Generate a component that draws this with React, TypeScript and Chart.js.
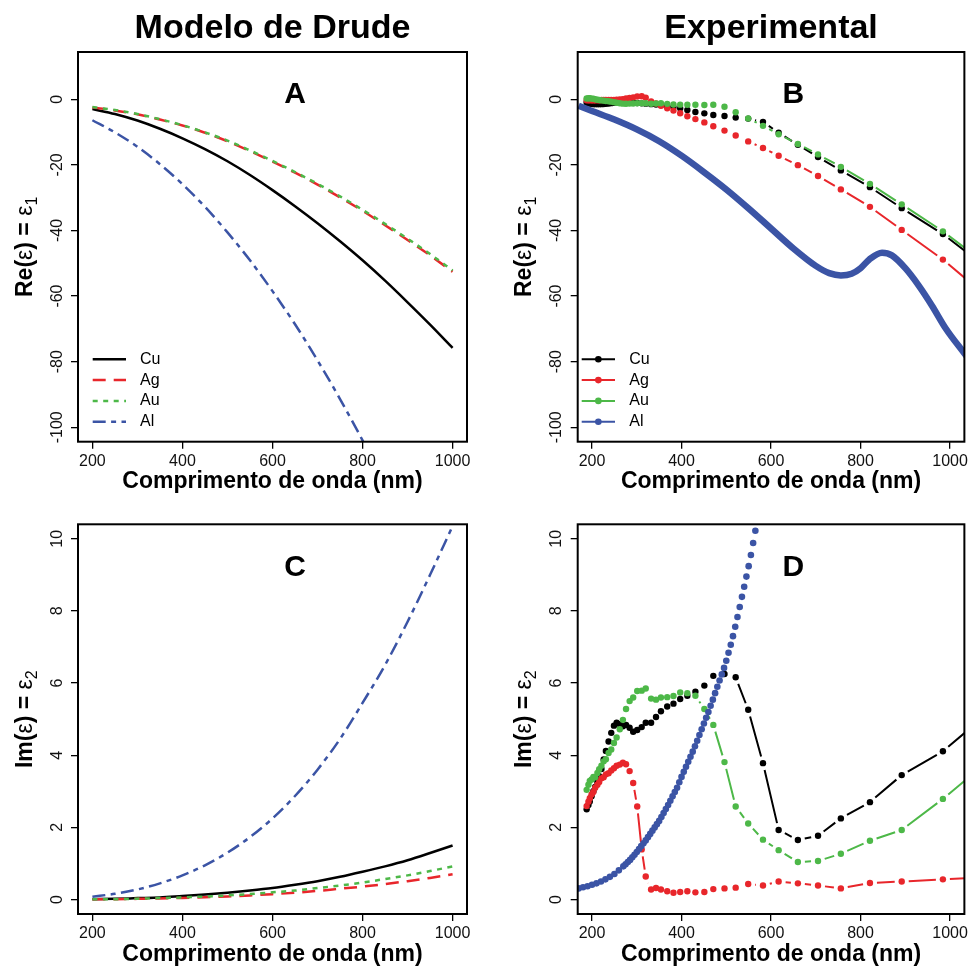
import React, { useEffect, useRef } from 'react';
import { Chart, registerables } from 'chart.js';

Chart.register(...registerables);

const FONT = "'Liberation Sans', Arial, Helvetica, sans-serif";

// ---------------- labels & ticks ----------------
const SERIES = ['Cu', 'Ag', 'Au', 'Al'];
const PANEL_TITLES = ['Modelo de Drude', 'Experimental'];
const X_TITLE = 'Comprimento de onda (nm)';
const X_TICKS = [200, 400, 600, 800, 1000];
const RE_TICKS = [-100, -80, -60, -40, -20, 0];
const IM_TICKS = [0, 2, 4, 6, 8, 10];
const X_RANGE = [168, 1032];
const RE_RANGE = [-104.4, 14.4];
const IM_RANGE = [-0.4, 10.4];

// ---------------- Drude model (panels A, C) ----------------
const DRUDE_WL = [200, 250, 300, 350, 400, 450, 500, 550, 600, 650, 700, 750, 800, 850, 900, 950, 1000];
const DRUDE_RE_CU = [-3.0, -4.5, -6.5, -9.0, -11.9, -15.2, -18.9, -23.1, -27.7, -32.6, -37.8, -43.3, -49.1, -55.3, -61.9, -68.7, -75.8];
const DRUDE_RE_AG = [-2.5, -3.4, -4.6, -6.2, -8.0, -10.2, -12.8, -15.8, -19.0, -22.4, -26.0, -29.9, -34.0, -38.4, -42.9, -47.6, -52.6];
const DRUDE_RE_AU = [-2.4, -3.3, -4.5, -6.1, -7.9, -10.1, -12.6, -15.6, -18.8, -22.2, -25.8, -29.6, -33.7, -38.0, -42.5, -47.2, -52.2];
const DRUDE_RE_AL = [-6.4, -10.1, -14.5, -19.8, -25.9, -32.8, -40.6, -49.1, -58.5, -68.6, -79.6, -91.4, -104.0, -117.4, -131.7, -146.7, -162.6];
const DRUDE_IM_CU = [0.01, 0.02, 0.04, 0.06, 0.1, 0.14, 0.19, 0.25, 0.32, 0.41, 0.51, 0.63, 0.77, 0.92, 1.09, 1.29, 1.5];
const DRUDE_IM_AG = [0.01, 0.01, 0.02, 0.03, 0.045, 0.064, 0.088, 0.116, 0.15, 0.19, 0.24, 0.3, 0.36, 0.43, 0.51, 0.6, 0.7];
const DRUDE_IM_AU = [0.01, 0.01, 0.025, 0.04, 0.059, 0.084, 0.115, 0.153, 0.2, 0.25, 0.32, 0.39, 0.47, 0.57, 0.67, 0.79, 0.92];
const DRUDE_IM_AL = [0.08, 0.16, 0.28, 0.45, 0.67, 0.95, 1.3, 1.73, 2.25, 2.87, 3.6, 4.45, 5.45, 6.5, 7.7, 9.0, 10.35];

// ---------------- Experimental (panels B, D) ----------------
const EXP_WL = [188, 192, 195, 199, 203, 207, 212, 216, 221, 226, 231, 237, 243, 249, 255, 262, 269, 276, 284, 292, 301, 311, 320, 332, 343, 354, 368, 382, 397, 413, 431, 451, 471, 496, 521, 549, 582, 617, 660, 705, 756, 821, 892, 984, 1088];
const EXP_RE_CU = [-1.0, -1.2, -1.3, -1.4, -1.5, -1.5, -1.5, -1.5, -1.5, -1.45, -1.4, -1.3, -1.2, -1.1, -0.95, -0.85, -0.8, -0.8, -0.85, -1.0, -1.15, -1.25, -1.35, -1.5, -1.6, -1.8, -2.1, -2.4, -2.75, -3.3, -3.9, -4.3, -4.8, -5.1, -5.6, -5.9, -6.9, -10.2, -13.9, -17.6, -21.7, -26.8, -33.2, -41.1, -52.0];
const EXP_RE_AG = [-0.32, -0.31, -0.32, -0.33, -0.36, -0.33, -0.32, -0.3, -0.24, -0.22, -0.2, -0.23, -0.21, -0.21, -0.17, -0.1, 0.02, 0.22, 0.39, 0.58, 0.87, 0.9, 0.5, -0.66, -1.28, -2.0, -2.74, -3.47, -4.28, -5.17, -6.06, -7.06, -8.23, -9.56, -11.05, -12.86, -14.88, -17.24, -20.09, -23.4, -27.48, -32.8, -39.84, -48.89, -60.76];
const EXP_RE_AU = [0.23, 0.3, 0.29, 0.2, 0.14, -0.01, -0.13, -0.23, -0.35, -0.42, -0.55, -0.62, -0.74, -0.89, -1.08, -1.24, -1.35, -1.37, -1.33, -1.31, -1.23, -1.24, -1.23, -1.36, -1.31, -1.23, -1.4, -1.6, -1.65, -1.7, -1.69, -1.76, -1.7, -2.28, -3.95, -5.84, -8.11, -10.66, -13.65, -16.82, -20.61, -25.81, -32.04, -40.27, -51.05];
const EXP_IM_CU = [2.5, 2.62, 2.72, 2.86, 3.0, 3.12, 3.26, 3.42, 3.62, 3.88, 4.12, 4.38, 4.62, 4.82, 4.9, 4.86, 4.8, 4.84, 4.76, 4.65, 4.7, 4.78, 4.9, 4.9, 5.06, 5.22, 5.35, 5.43, 5.56, 5.65, 5.76, 5.93, 6.2, 6.25, 6.16, 5.26, 3.78, 1.93, 1.65, 1.77, 2.25, 2.7, 3.45, 4.11, 5.2];
const EXP_IM_AG = [2.59, 2.71, 2.81, 2.91, 2.98, 3.1, 3.18, 3.26, 3.36, 3.39, 3.47, 3.5, 3.58, 3.64, 3.71, 3.74, 3.79, 3.75, 3.56, 3.23, 2.58, 1.39, 0.64, 0.28, 0.32, 0.28, 0.23, 0.19, 0.21, 0.23, 0.2, 0.21, 0.29, 0.31, 0.33, 0.43, 0.39, 0.5, 0.45, 0.39, 0.31, 0.46, 0.5, 0.56, 0.62];
const EXP_IM_AU = [3.04, 3.18, 3.29, 3.33, 3.4, 3.39, 3.51, 3.61, 3.71, 3.83, 3.89, 4.06, 4.16, 4.34, 4.49, 4.72, 4.98, 5.28, 5.5, 5.6, 5.78, 5.79, 5.85, 5.57, 5.54, 5.6, 5.61, 5.64, 5.74, 5.72, 5.65, 5.28, 4.84, 3.81, 2.58, 2.11, 1.66, 1.37, 1.04, 1.07, 1.27, 1.63, 1.93, 2.79, 3.86];

const AL_RE_WL = [170, 200, 250, 300, 350, 400, 450, 500, 550, 600, 650, 700, 730, 756, 780, 800, 820, 848, 870, 900, 930, 960, 990, 1031, 1060];
const AL_RE = [-2.0, -3.6, -6.2, -9.2, -12.8, -17.2, -22.2, -27.5, -33.3, -39.4, -45.5, -50.8, -53.0, -53.7, -53.2, -51.5, -48.8, -46.8, -47.6, -51.5, -56.8, -63.0, -69.8, -77.3, -82.5];

const AL_IM_WL = [170, 180, 190, 200, 210, 220, 230, 240, 250, 260,
  270, 275, 280, 285, 290, 295, 300, 305, 310, 315, 320, 325, 330, 335, 340, 345, 350, 355, 360, 365, 370, 375, 380, 385, 390, 395, 400,
  405, 410, 415, 420, 425, 430, 435, 440, 445, 450, 455, 460, 465, 470, 475, 480, 485, 490, 495, 500, 505, 510, 515, 520, 525, 530, 535, 540, 545, 550, 555, 560, 565, 570, 575];
const AL_IM = [0.31, 0.34, 0.37, 0.41, 0.45, 0.5, 0.56, 0.63, 0.71, 0.81,
  0.92, 0.98, 1.04, 1.1, 1.17, 1.24, 1.32, 1.4, 1.48, 1.56, 1.64, 1.73, 1.82, 1.91, 2.0, 2.09, 2.18, 2.29, 2.4, 2.51, 2.62, 2.74, 2.86, 2.98, 3.1, 3.25, 3.4,
  3.54, 3.68, 3.82, 3.96, 4.1, 4.25, 4.4, 4.56, 4.72, 4.88, 5.04, 5.2, 5.37, 5.54, 5.72, 5.9, 6.07, 6.24, 6.42, 6.62, 6.84, 7.06, 7.3, 7.56, 7.83, 8.11, 8.39, 8.67, 8.95, 9.24, 9.55, 9.88, 10.22, 10.56, 10.92];

// ---------------- styles ----------------
const COLORS: Record<string, string> = { Cu: '#000000', Ag: '#e8262b', Au: '#4db848', Al: '#3b54a5' };
const DASHES: Record<string, number[]> = { Cu: [], Ag: [13, 8], Au: [5, 5.5], Al: [13, 5.4, 5, 5.4] };
const ORDER: Record<string, number> = { Cu: 4, Ag: 3, Au: 2, Al: 1 };

const pairs = (xs: number[], ys: number[]) => xs.map((x, i) => ({ x, y: ys[i] }));

function modelLine(name: string, xs: number[], ys: number[]) {
  return {
    label: name,
    data: pairs(xs, ys),
    borderColor: COLORS[name],
    backgroundColor: COLORS[name],
    borderWidth: 2.5,
    borderDash: DASHES[name],
    pointRadius: 0,
    cubicInterpolationMode: 'monotone',
    fill: false,
    order: ORDER[name],
    clip: 0,
  };
}

function expPoints(name: string, xs: number[], ys: number[]) {
  return {
    label: name,
    data: pairs(xs, ys),
    borderColor: COLORS[name],
    backgroundColor: COLORS[name],
    showLine: false,
    pointRadius: 3.2,
    pointBorderWidth: 0,
    pointBackgroundColor: COLORS[name],
    order: ORDER[name],
    clip: 0,
    gapLine: true,
    gap: 7,
    gapLineWidth: 2,
  };
}

const alReLine = {
  label: 'Al',
  data: pairs(AL_RE_WL, AL_RE),
  borderColor: COLORS.Al,
  backgroundColor: COLORS.Al,
  borderWidth: 6.5,
  pointRadius: 0,
  cubicInterpolationMode: 'monotone',
  order: ORDER.Al,
  clip: 0,
};

const alImDots = {
  label: 'Al',
  data: pairs(AL_IM_WL, AL_IM),
  borderColor: COLORS.Al,
  backgroundColor: COLORS.Al,
  showLine: false,
  pointRadius: 3.3,
  pointBorderWidth: 0,
  pointBackgroundColor: COLORS.Al,
  order: ORDER.Al,
  clip: 0,
};

const RE_TITLE: [string, string][] = [['Re(', 'b'], ['ε', 'n'], [')', 'b'], [' = ', 'b'], ['ε', 'n'], ['1', 's']];
const IM_TITLE: [string, string][] = [['Im(', 'b'], ['ε', 'n'], [')', 'b'], [' = ', 'b'], ['ε', 'n'], ['2', 's']];

const PANELS = [
  {
    key: 'A', x: 0, y: 0, w: 485, h: 495,
    padding: { left: 0, top: 52, right: 18, bottom: 0 }, yw: 78, xh: 53.3,
    yRange: RE_RANGE, yTicks: RE_TICKS, yTitle: RE_TITLE, letterAt: [650, 1.3], title: PANEL_TITLES[0],
    legend: { kind: 'line', x0: 14.7, x1: 48, tx: 62 },
    datasets: [
      modelLine('Cu', DRUDE_WL, DRUDE_RE_CU), modelLine('Ag', DRUDE_WL, DRUDE_RE_AG),
      modelLine('Au', DRUDE_WL, DRUDE_RE_AU), modelLine('Al', DRUDE_WL, DRUDE_RE_AL),
    ],
  },
  {
    key: 'B', x: 485, y: 0, w: 486, h: 495,
    padding: { left: 0, top: 52, right: 3.7, bottom: 0 }, yw: 92.7, xh: 53.3,
    yRange: RE_RANGE, yTicks: RE_TICKS, yTitle: RE_TITLE, letterAt: [650, 1.3], title: PANEL_TITLES[1],
    legend: { kind: 'marker', x0: 4, x1: 37.3, tx: 51.6 },
    datasets: [
      expPoints('Cu', EXP_WL, EXP_RE_CU), expPoints('Ag', EXP_WL, EXP_RE_AG),
      expPoints('Au', EXP_WL, EXP_RE_AU), alReLine,
    ],
  },
  {
    key: 'C', x: 0, y: 490, w: 485, h: 478,
    padding: { left: 0, top: 34.3, right: 18, bottom: 0 }, yw: 78, xh: 54,
    yRange: IM_RANGE, yTicks: IM_TICKS, yTitle: IM_TITLE, letterAt: [650, 9.2], title: null,
    legend: null,
    datasets: [
      modelLine('Cu', DRUDE_WL, DRUDE_IM_CU), modelLine('Ag', DRUDE_WL, DRUDE_IM_AG),
      modelLine('Au', DRUDE_WL, DRUDE_IM_AU), modelLine('Al', DRUDE_WL, DRUDE_IM_AL),
    ],
  },
  {
    key: 'D', x: 485, y: 490, w: 486, h: 478,
    padding: { left: 0, top: 34.3, right: 3.7, bottom: 0 }, yw: 92.7, xh: 54,
    yRange: IM_RANGE, yTicks: IM_TICKS, yTitle: IM_TITLE, letterAt: [650, 9.2], title: null,
    legend: null,
    datasets: [
      expPoints('Cu', EXP_WL, EXP_IM_CU), expPoints('Ag', EXP_WL, EXP_IM_AG),
      expPoints('Au', EXP_WL, EXP_IM_AU), alImDots,
    ],
  },
];

function makeDecor(spec: any) {
  return {
    id: 'decor' + spec.key,
    beforeDatasetDraw(chart: any, args: any) {
      const ds = chart.data.datasets[args.index];
      if (!ds.gapLine) return;
      const pts = args.meta.data;
      const ctx = chart.ctx;
      const a = chart.chartArea;
      ctx.save();
      ctx.beginPath();
      ctx.rect(a.left, a.top, a.right - a.left, a.bottom - a.top);
      ctx.clip();
      ctx.strokeStyle = ds.borderColor;
      ctx.lineWidth = ds.gapLineWidth;
      ctx.lineCap = 'butt';
      ctx.setLineDash([]);
      const g = ds.gap;
      ctx.beginPath();
      for (let i = 0; i < pts.length - 1; i++) {
        const p = pts[i], q = pts[i + 1];
        const dx = q.x - p.x, dy = q.y - p.y;
        const d = Math.hypot(dx, dy);
        if (d <= 2 * g) continue;
        const ux = dx / d, uy = dy / d;
        ctx.moveTo(p.x + ux * g, p.y + uy * g);
        ctx.lineTo(q.x - ux * g, q.y - uy * g);
      }
      ctx.stroke();
      ctx.restore();
    },
    afterDraw(chart: any) {
      const ctx = chart.ctx;
      const a = chart.chartArea;
      const xs = chart.scales.x;
      const ys = chart.scales.y;
      ctx.save();
      // plot box
      ctx.strokeStyle = '#000';
      ctx.lineWidth = 2;
      ctx.setLineDash([]);
      ctx.strokeRect(a.left, a.top, a.right - a.left, a.bottom - a.top);

      // rotated y tick labels
      ctx.fillStyle = '#111';
      ctx.font = `16px ${FONT}`;
      ctx.textAlign = 'center';
      ctx.textBaseline = 'alphabetic';
      ys.ticks.forEach((t: any) => {
        const py = ys.getPixelForValue(t.value);
        ctx.save();
        ctx.translate(a.left - 16.3, py);
        ctx.rotate(-Math.PI / 2);
        ctx.fillText(String(t.value), 0, 0);
        ctx.restore();
      });

      // y axis title with subscript
      const fontOf = (s: string) =>
        s === 'b' ? `bold 23px ${FONT}` : s === 'n' ? `23px ${FONT}` : `16px ${FONT}`;
      let total = 0;
      const widths = spec.yTitle.map(([t, s]: [string, string]) => {
        ctx.font = fontOf(s);
        const w = ctx.measureText(t).width;
        total += w;
        return w;
      });
      ctx.save();
      ctx.translate(a.left - 46.3, (a.top + a.bottom) / 2);
      ctx.rotate(-Math.PI / 2);
      ctx.fillStyle = '#000';
      ctx.textAlign = 'left';
      ctx.textBaseline = 'alphabetic';
      let cx = -total / 2;
      spec.yTitle.forEach(([t, s]: [string, string], i: number) => {
        ctx.font = fontOf(s);
        ctx.fillText(t, cx, s === 's' ? 5 : 0);
        cx += widths[i];
      });
      ctx.restore();

      // panel letter
      ctx.fillStyle = '#000';
      ctx.font = `bold 30px ${FONT}`;
      ctx.textAlign = 'center';
      ctx.textBaseline = 'middle';
      ctx.fillText(spec.key, xs.getPixelForValue(spec.letterAt[0]), ys.getPixelForValue(spec.letterAt[1]));

      // column title
      if (spec.title) {
        ctx.font = `bold 34px ${FONT}`;
        ctx.textAlign = 'center';
        ctx.textBaseline = 'alphabetic';
        ctx.fillText(spec.title, (a.left + a.right) / 2, 37.5);
      }

      // legend
      const lg = spec.legend;
      if (lg) {
        const n = chart.data.datasets.length;
        chart.data.datasets.forEach((ds: any, i: number) => {
          const y = a.bottom - 20 - (n - 1 - i) * 20.8;
          const x0 = a.left + lg.x0, x1 = a.left + lg.x1;
          ctx.save();
          ctx.strokeStyle = ds.borderColor;
          if (lg.kind === 'line') {
            ctx.lineWidth = ds.borderWidth;
            ctx.setLineDash(ds.borderDash || []);
          } else {
            ctx.lineWidth = 2;
            ctx.setLineDash([]);
          }
          ctx.beginPath();
          ctx.moveTo(x0, y);
          ctx.lineTo(x1, y);
          ctx.stroke();
          if (lg.kind === 'marker') {
            ctx.fillStyle = ds.borderColor;
            ctx.beginPath();
            ctx.arc((x0 + x1) / 2, y, 3.3, 0, Math.PI * 2);
            ctx.fill();
          }
          ctx.fillStyle = '#000';
          ctx.font = `16px ${FONT}`;
          ctx.textAlign = 'left';
          ctx.textBaseline = 'middle';
          ctx.fillText(SERIES[i], a.left + lg.tx, y);
          ctx.restore();
        });
      }
      ctx.restore();
    },
  };
}

function buildConfig(spec: any): any {
  return {
    type: 'line',
    data: { datasets: spec.datasets },
    options: {
      responsive: false,
      animation: false,
      devicePixelRatio: 1,
      events: [],
      layout: { padding: spec.padding },
      plugins: { legend: { display: false }, tooltip: { enabled: false } },
      scales: {
        x: {
          type: 'linear',
          min: X_RANGE[0],
          max: X_RANGE[1],
          afterBuildTicks: (s: any) => { s.ticks = X_TICKS.map((v) => ({ value: v })); },
          afterFit: (s: any) => { s.height = spec.xh; },
          border: { display: false },
          grid: { drawOnChartArea: false, drawTicks: true, tickLength: 7, color: '#000', lineWidth: 1.3 },
          ticks: {
            font: { size: 16, family: FONT }, color: '#111', padding: 3,
            maxRotation: 0, minRotation: 0, autoSkip: false,
            callback: (v: any) => String(v),
          },
          title: {
            display: true, text: X_TITLE, color: '#000',
            font: { size: 23, weight: 'bold', family: FONT }, padding: { top: 0, bottom: 0 },
          },
        },
        y: {
          type: 'linear',
          min: spec.yRange[0],
          max: spec.yRange[1],
          afterBuildTicks: (s: any) => { s.ticks = spec.yTicks.map((v: number) => ({ value: v })); },
          afterFit: (s: any) => { s.width = spec.yw; },
          border: { display: false },
          grid: { drawOnChartArea: false, drawTicks: true, tickLength: 7, color: '#000', lineWidth: 1.3 },
          ticks: { display: false },
        },
      },
    },
    plugins: [makeDecor(spec)],
  };
}

function Panel({ spec }: { spec: any }) {
  const ref = useRef<HTMLCanvasElement>(null);
  useEffect(() => {
    if (!ref.current) return;
    const chart = new Chart(ref.current, buildConfig(spec));
    return () => chart.destroy();
  }, [spec]);
  return (
    <canvas
      ref={ref}
      width={spec.w}
      height={spec.h}
      style={{ position: 'absolute', left: spec.x, top: spec.y, width: spec.w, height: spec.h }}
    />
  );
}

export default function App() {
  return (
    <div
      style={{
        position: 'absolute', left: 0, top: 0, width: 971, height: 966,
        overflow: 'hidden', background: '#fff', fontFamily: FONT,
      }}
    >
      {PANELS.map((p) => (
        <Panel key={p.key} spec={p} />
      ))}
    </div>
  );
}
